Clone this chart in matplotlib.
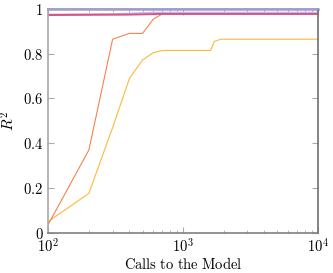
import numpy as np
import matplotlib
matplotlib.use('Agg')
import matplotlib.pyplot as plt
from matplotlib.ticker import FixedLocator, FixedFormatter, LogLocator

plt.rcParams['font.family'] = 'serif'
plt.rcParams['font.serif'] = ['DejaVu Serif']
plt.rcParams['mathtext.fontset'] = 'cm'

# data
calls_orange = [100, 200, 300, 400, 500, 600, 700, 800, 10000]
r2_orange = [0.037, 0.37, 0.865, 0.891, 0.891, 0.954, 0.978, 0.978, 0.978]

calls_yellow = [100, 200, 300, 400, 500, 600, 700, 800, 1600, 1700, 1900, 10000]
r2_yellow = [0.05, 0.176, 0.47, 0.69, 0.772, 0.805, 0.814, 0.815, 0.815, 0.855, 0.865, 0.865]

calls_blue = [100, 300, 600, 700, 10000]
r2_blue = [0.976, 0.978, 0.984, 0.984, 0.984]

calls_pink = [100, 400, 700, 10000]
r2_pink = [0.973, 0.975, 0.978, 0.978]

calls_purple = [100, 10000]
r2_purple = [1.0, 1.0]

fig = plt.figure(figsize=(3.33, 2.73), dpi=100)
ax = fig.add_axes([0.145, 0.1476, 0.81, 0.8194])

ax.plot(calls_yellow, r2_yellow, color='#fdb93a', lw=0.8)
ax.plot(calls_orange, r2_orange, color='#f7834a', lw=0.8)
ax.plot(calls_blue, r2_blue, color='#a9c6f3', lw=1.2)
ax.plot(calls_pink, r2_pink, color='#e04f86', lw=1.4)
ax.plot(calls_purple, r2_purple, color='#a29ccf', lw=1.8, clip_on=False)

ax.set_xscale('log')
ax.set_xlim(100, 10000)
ax.set_ylim(0, 1)

yt = [0, 0.2, 0.4, 0.6, 0.8, 1]
ax.yaxis.set_major_locator(FixedLocator(yt))
ax.yaxis.set_major_formatter(FixedFormatter(['$0$', '$0.2$', '$0.4$', '$0.6$', '$0.8$', '$1$']))
ax.xaxis.set_major_locator(FixedLocator([100, 1000, 10000]))
ax.xaxis.set_major_formatter(FixedFormatter(['$10^2$', '$10^3$', '$10^4$']))
ax.xaxis.set_minor_locator(LogLocator(base=10, subs=np.arange(2, 10)))

ax.tick_params(direction='in', which='both', top=True, right=True,
               labelsize=10.5, color='#aaaaaa')
ax.tick_params(which='major', length=4)
ax.tick_params(which='minor', length=2)
ax.tick_params(axis='x', pad=3)

for s in ax.spines.values():
    s.set_linewidth(1.2)
ax.spines['left'].set_color('#a8a8a8')
ax.spines['bottom'].set_color('#808080')
ax.spines['right'].set_color('#707070')
ax.spines['top'].set_color('#a29ccf')

ax.set_xlabel(r'$\mathrm{Calls\ to\ the\ Model}$', fontsize=10.5, labelpad=1)
ax.set_ylabel(r'$R^2$', fontsize=11, labelpad=4)

fig.savefig('out.png', dpi=100)
